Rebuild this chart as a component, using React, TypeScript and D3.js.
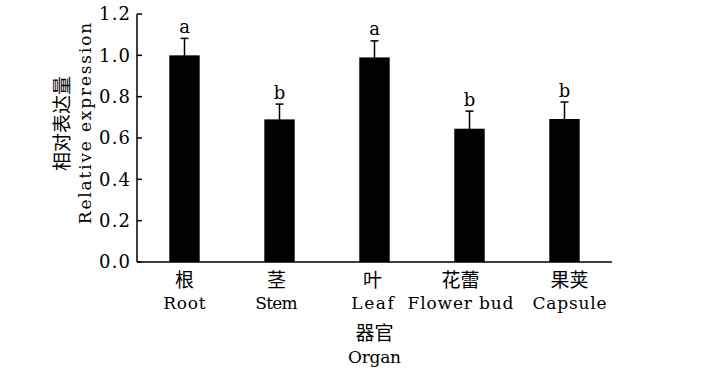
import { useEffect } from 'react';
import * as d3 from 'd3';

const organsZh = ['根', '茎', '叶', '花蕾', '果荚'];
const organsEn = ['Root', 'Stem', 'Leaf', 'Flower bud', 'Capsule'];
const expression = [1.0, 0.69, 0.99, 0.645, 0.692];
const errors = [0.082, 0.074, 0.08, 0.085, 0.082];
const letters = ['a', 'b', 'a', 'b', 'b'];
const yTicks = [0, 0.2, 0.4, 0.6, 0.8, 1.0, 1.2];

const W = 709;
const H = 373;
const margin = { top: 14, right: 97, bottom: 111, left: 137 };
// the category labels in the original sit a few px off their bar centres
const labelNudge = [0, -3, -2, -9, 5];
const serif = '"DejaVu Serif", "Liberation Serif", serif';
const cjk = '"Noto Sans CJK SC", sans-serif';
const CH = 10.6; // half-width advance of the original's mono latin

export default function App() {
  useEffect(() => {
    document.body.style.margin = '0';
  }, []);

  const innerW = W - margin.left - margin.right;
  const innerH = H - margin.top - margin.bottom;

  const x = d3
    .scaleBand<number>()
    .domain(d3.range(organsEn.length))
    .range([0, innerW])
    .paddingInner(0.68)
    .paddingOuter(0.34);
  const y = d3.scaleLinear().domain([0, 1.2]).range([innerH, 0]);
  const bw = x.bandwidth();

  return (
    <svg width={W} height={H} style={{ display: 'block', background: '#fff' }}>
      <g transform={`translate(${margin.left}, ${margin.top})`}>
        {/* bars + error bars */}
        {expression.map((v, i) => {
          const cx = (x(i) ?? 0) + bw / 2;
          const top = y(v + errors[i]);
          const bot = y(v - errors[i]);
          return (
            <g key={i}>
              <rect x={x(i)} y={y(v)} width={bw} height={innerH - y(v)} fill="#000" />
              <line x1={cx} x2={cx} y1={top} y2={bot} stroke="#000" strokeWidth={1.5} />
              <line x1={cx - 4} x2={cx + 4} y1={top} y2={top} stroke="#000" strokeWidth={1.5} />
              <line x1={cx - 4} x2={cx + 4} y1={bot} y2={bot} stroke="#000" strokeWidth={1.5} />
              <text x={cx} y={top - 5.5} textAnchor="middle" fontSize={18} fontFamily={serif}>
                {letters[i]}
              </text>
            </g>
          );
        })}

        {/* y axis */}
        <line x1={0} x2={0} y1={0} y2={innerH} stroke="#000" strokeWidth={1.5} />
        {yTicks.map((t) => (
          <g key={t}>
            <line x1={0} x2={5} y1={y(t)} y2={y(t)} stroke="#000" strokeWidth={1.5} />
            <text
              x={-7}
              y={y(t)}
              dy="0.36em"
              textAnchor="end"
              fontSize={18}
              fontFamily={serif}
              textLength={31}
              lengthAdjust="spacing"
            >
              {t.toFixed(1)}
            </text>
          </g>
        ))}

        {/* x axis, two-line labels (Chinese over English) */}
        <line x1={0} x2={innerW} y1={innerH} y2={innerH} stroke="#000" strokeWidth={1.5} />
        {organsEn.map((en, i) => {
          const cx = (x(i) ?? 0) + bw / 2 + labelNudge[i];
          return (
            <g key={en}>
              <text x={cx} y={innerH + 25} textAnchor="middle" fontSize={19} fontFamily={cjk}>
                {organsZh[i]}
              </text>
              <text
                x={cx}
                y={innerH + 47}
                textAnchor="middle"
                fontSize={17}
                fontFamily={serif}
                textLength={en.length * CH}
                lengthAdjust="spacing"
              >
                {en}
              </text>
            </g>
          );
        })}

        {/* axis titles */}
        <text x={innerW / 2} y={innerH + 78} textAnchor="middle" fontSize={19} fontFamily={cjk}>
          器官
        </text>
        <text
          x={innerW / 2}
          y={innerH + 101}
          textAnchor="middle"
          fontSize={17}
          fontFamily={serif}
          textLength={5 * CH}
          lengthAdjust="spacing"
        >
          Organ
        </text>
        <g transform={`translate(${63 - margin.left}, ${123.5 - margin.top}) rotate(-90)`}>
          <text x={0} y={6} textAnchor="middle" fontSize={19} fontFamily={cjk}>
            相对表达量
          </text>
          <text
            x={0}
            y={28}
            textAnchor="middle"
            fontSize={17}
            fontFamily={serif}
            textLength={19 * CH}
            lengthAdjust="spacing"
          >
            Relative expression
          </text>
        </g>
      </g>
    </svg>
  );
}
